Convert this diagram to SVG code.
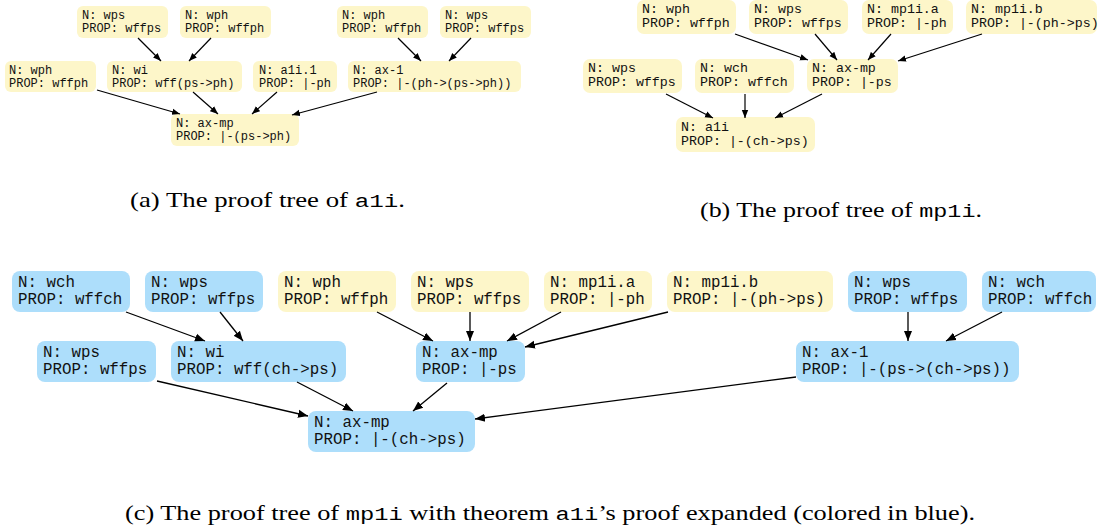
<svg xmlns="http://www.w3.org/2000/svg" width="1098" height="531" viewBox="0 0 1098 531">
<style>
.y{fill:#fdf6c9}
.b{fill:#addefb}
.ta{font-family:"Liberation Mono",monospace;font-size:12px;fill:#111}
.tb{font-family:"Liberation Mono",monospace;font-size:13.3px;fill:#111}
.tc{font-family:"Liberation Mono",monospace;font-size:15.8px;fill:#111}
.e{stroke:#000;stroke-width:1.2;fill:none;marker-end:url(#ah)}
.ec{stroke:#000;stroke-width:1.3;fill:none;marker-end:url(#ahc)}
.cap{font-family:"Liberation Serif",serif;font-size:21px;fill:#000}
.mono{font-family:"Liberation Mono",monospace;font-size:19px}
</style>
<defs>
<marker id="ah" viewBox="0 0 10 10" refX="10" refY="5" markerWidth="8" markerHeight="8" markerUnits="userSpaceOnUse" orient="auto">
<path d="M0,1 L10,5 L0,9 z" fill="#000"/>
</marker>
<marker id="ahc" viewBox="0 0 10 10" refX="10" refY="5" markerWidth="10" markerHeight="10" markerUnits="userSpaceOnUse" orient="auto">
<path d="M0,1 L10,5 L0,9 z" fill="#000"/>
</marker>
</defs>
<rect width="1098" height="531" fill="#fff"/>

<!-- (a) -->
<g id="a-wps"><rect class="y" x="77" y="6" width="91" height="32" rx="6"/><text class="ta" x="82" y="19">N: wps</text><text class="ta" x="82" y="32">PROP: wffps</text></g>
<g id="a-wph"><rect class="y" x="180" y="6" width="91" height="32" rx="6"/><text class="ta" x="185" y="19">N: wph</text><text class="ta" x="185" y="32">PROP: wffph</text></g>
<g id="a-wph2"><rect class="y" x="337" y="6" width="91" height="32" rx="6"/><text class="ta" x="342" y="19">N: wph</text><text class="ta" x="342" y="32">PROP: wffph</text></g>
<g id="a-wps2"><rect class="y" x="440" y="6" width="91" height="32" rx="6"/><text class="ta" x="445" y="19">N: wps</text><text class="ta" x="445" y="32">PROP: wffps</text></g>
<g id="a-wph3"><rect class="y" x="5" y="61" width="91" height="31" rx="6"/><text class="ta" x="9" y="74">N: wph</text><text class="ta" x="9" y="87">PROP: wffph</text></g>
<g id="a-wi"><rect class="y" x="107" y="61" width="135" height="31" rx="6"/><text class="ta" x="112" y="74">N: wi</text><text class="ta" x="112" y="87">PROP: wff(ps-&gt;ph)</text></g>
<g id="a-a1i1"><rect class="y" x="253" y="61" width="84" height="31" rx="6"/><text class="ta" x="259" y="74">N: a1i.1</text><text class="ta" x="259" y="87">PROP: |-ph</text></g>
<g id="a-ax1"><rect class="y" x="348" y="61" width="173" height="31" rx="6"/><text class="ta" x="353" y="74">N: ax-1</text><text class="ta" x="353" y="87">PROP: |-(ph-&gt;(ps-&gt;ph))</text></g>
<g id="a-axmp"><rect class="y" x="171" y="114" width="128" height="32" rx="6"/><text class="ta" x="176" y="127">N: ax-mp</text><text class="ta" x="176" y="140">PROP: |-(ps-&gt;ph)</text></g>

<!-- (b) -->
<g id="b-wph"><rect class="y" x="637" y="0" width="99" height="34" rx="7"/><text class="tb" x="642" y="13">N: wph</text><text class="tb" x="642" y="27">PROP: wffph</text></g>
<g id="b-wps"><rect class="y" x="749" y="0" width="99" height="34" rx="7"/><text class="tb" x="754" y="13">N: wps</text><text class="tb" x="754" y="27">PROP: wffps</text></g>
<g id="b-mp1ia"><rect class="y" x="862" y="0" width="91" height="34" rx="7"/><text class="tb" x="867" y="13">N: mp1i.a</text><text class="tb" x="867" y="27">PROP: |-ph</text></g>
<g id="b-mp1ib"><rect class="y" x="966" y="0" width="131" height="34" rx="7"/><text class="tb" x="971" y="13">N: mp1i.b</text><text class="tb" x="971" y="27">PROP: |-(ph-&gt;ps)</text></g>
<g id="b-wps2"><rect class="y" x="583" y="59" width="99" height="34" rx="7"/><text class="tb" x="588" y="72">N: wps</text><text class="tb" x="588" y="86">PROP: wffps</text></g>
<g id="b-wch"><rect class="y" x="695" y="59" width="99" height="34" rx="7"/><text class="tb" x="700" y="72">N: wch</text><text class="tb" x="700" y="86">PROP: wffch</text></g>
<g id="b-axmp"><rect class="y" x="807" y="59" width="91" height="34" rx="7"/><text class="tb" x="812" y="72">N: ax-mp</text><text class="tb" x="812" y="86">PROP: |-ps</text></g>
<g id="b-a1i"><rect class="y" x="676" y="117" width="139" height="35" rx="7"/><text class="tb" x="681" y="131">N: a1i</text><text class="tb" x="681" y="145">PROP: |-(ch-&gt;ps)</text></g>

<!-- (c) -->
<g id="c-wch"><rect class="b" x="12" y="271" width="118" height="41" rx="8"/><text class="tc" x="18" y="287">N: wch</text><text class="tc" x="18" y="304">PROP: wffch</text></g>
<g id="c-wps"><rect class="b" x="145" y="271" width="118" height="41" rx="8"/><text class="tc" x="151" y="287">N: wps</text><text class="tc" x="151" y="304">PROP: wffps</text></g>
<g id="c-wph"><rect class="y" x="278" y="271" width="118" height="41" rx="8"/><text class="tc" x="284" y="287">N: wph</text><text class="tc" x="284" y="304">PROP: wffph</text></g>
<g id="c-wps2"><rect class="y" x="411" y="271" width="118" height="41" rx="8"/><text class="tc" x="417" y="287">N: wps</text><text class="tc" x="417" y="304">PROP: wffps</text></g>
<g id="c-mp1ia"><rect class="y" x="544" y="271" width="108" height="41" rx="8"/><text class="tc" x="550" y="287">N: mp1i.a</text><text class="tc" x="550" y="304">PROP: |-ph</text></g>
<g id="c-mp1ib"><rect class="y" x="667" y="271" width="166" height="41" rx="8"/><text class="tc" x="673" y="287">N: mp1i.b</text><text class="tc" x="673" y="304">PROP: |-(ph-&gt;ps)</text></g>
<g id="c-wps3"><rect class="b" x="848" y="271" width="119" height="41" rx="8"/><text class="tc" x="854" y="287">N: wps</text><text class="tc" x="854" y="304">PROP: wffps</text></g>
<g id="c-wch2"><rect class="b" x="982" y="271" width="114" height="41" rx="8"/><text class="tc" x="988" y="287">N: wch</text><text class="tc" x="988" y="304">PROP: wffch</text></g>
<g id="c-wps4"><rect class="b" x="37" y="341" width="119" height="41" rx="8"/><text class="tc" x="43" y="357">N: wps</text><text class="tc" x="43" y="374">PROP: wffps</text></g>
<g id="c-wi"><rect class="b" x="171" y="341" width="175" height="41" rx="8"/><text class="tc" x="177" y="357">N: wi</text><text class="tc" x="177" y="374">PROP: wff(ch-&gt;ps)</text></g>
<g id="c-axmp1"><rect class="b" x="416" y="341" width="109" height="41" rx="8"/><text class="tc" x="422" y="357">N: ax-mp</text><text class="tc" x="422" y="374">PROP: |-ps</text></g>
<g id="c-ax1"><rect class="b" x="796" y="341" width="223" height="41" rx="8"/><text class="tc" x="802" y="357">N: ax-1</text><text class="tc" x="802" y="374">PROP: |-(ps-&gt;(ch-&gt;ps))</text></g>
<g id="c-axmp2"><rect class="b" x="308" y="411" width="167" height="41" rx="8"/><text class="tc" x="314" y="427">N: ax-mp</text><text class="tc" x="314" y="444">PROP: |-(ch-&gt;ps)</text></g>

<g id="connectors">
<line class="e" x1="138" y1="38" x2="161" y2="61"/>
<line class="e" x1="211" y1="38" x2="189" y2="61"/>
<line class="e" x1="97" y1="90" x2="180" y2="114"/>
<line class="e" x1="193" y1="92" x2="218" y2="114"/>
<line class="e" x1="277" y1="92" x2="252" y2="114"/>
<line class="e" x1="377" y1="92" x2="292" y2="115"/>
<line class="e" x1="398" y1="38" x2="421" y2="61"/>
<line class="e" x1="471" y1="38" x2="449" y2="61"/>

<line class="e" x1="735" y1="34" x2="808" y2="60"/>
<line class="e" x1="815" y1="34" x2="837" y2="60"/>
<line class="e" x1="891" y1="34" x2="868" y2="60"/>
<line class="e" x1="982" y1="34" x2="898" y2="61"/>
<line class="e" x1="666" y1="94" x2="713" y2="118"/>
<line class="e" x1="745" y1="94" x2="745" y2="118"/>
<line class="e" x1="822" y1="94" x2="775" y2="118"/>

<line class="ec" x1="126" y1="312" x2="205" y2="341"/>
<line class="ec" x1="220" y1="312" x2="243" y2="341"/>
<line class="ec" x1="157" y1="381" x2="308" y2="416"/>
<line class="ec" x1="297" y1="382" x2="353" y2="411"/>
<line class="ec" x1="377" y1="312" x2="433" y2="341"/>
<line class="ec" x1="470" y1="312" x2="470" y2="341"/>
<line class="ec" x1="561" y1="312" x2="507" y2="341"/>
<line class="ec" x1="668" y1="312" x2="525" y2="347"/>
<line class="ec" x1="447" y1="383" x2="413" y2="411"/>
<line class="ec" x1="796" y1="377" x2="475" y2="419"/>
<line class="ec" x1="908" y1="312" x2="908" y2="341"/>
<line class="ec" x1="1002" y1="312" x2="946" y2="341"/>
</g>

<text class="cap" x="130" y="207" textLength="275" lengthAdjust="spacingAndGlyphs">(a) The proof tree of <tspan class="mono">a1i</tspan>.</text>
<text class="cap" x="700" y="217" textLength="282" lengthAdjust="spacingAndGlyphs">(b) The proof tree of <tspan class="mono">mp1i</tspan>.</text>
<text class="cap" x="125" y="520" textLength="850" lengthAdjust="spacingAndGlyphs">(c) The proof tree of <tspan class="mono">mp1i</tspan> with theorem <tspan class="mono">a1i</tspan>’s proof expanded (colored in blue).</text>
</svg>
